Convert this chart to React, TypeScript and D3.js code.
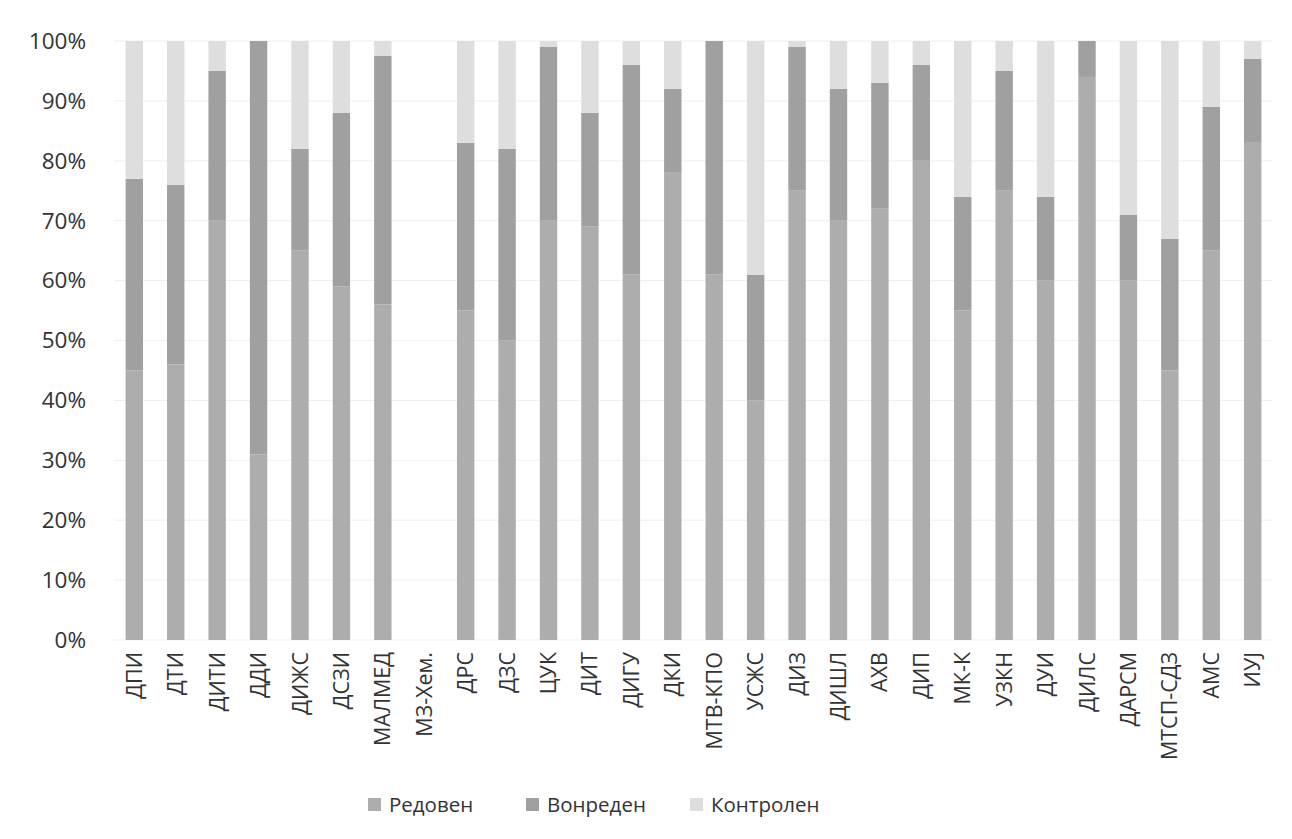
import React, { useEffect, useRef } from 'react';
import * as d3 from 'd3';

const categories = [
  'ДПИ', 'ДТИ', 'ДИТИ', 'ДДИ', 'ДИЖС', 'ДСЗИ', 'МАЛМЕД', 'МЗ-Хем.', 'ДРС', 'ДЗС',
  'ЦУК', 'ДИТ', 'ДИГУ', 'ДКИ', 'МТВ-КПО', 'УСЖС', 'ДИЗ', 'ДИШЛ', 'АХВ', 'ДИП',
  'МК-К', 'УЗКН', 'ДУИ', 'ДИЛС', 'ДАРСМ', 'МТСП-СДЗ', 'АМС', 'ИУЈ',
];

// shares in percent
const redoven = [45, 46, 70, 31, 65, 59, 56, 0, 55, 50, 70, 69, 61, 78, 61, 40, 75, 70, 72, 80, 55, 75, 60, 94, 60, 45, 65, 83];
const vonreden = [32, 30, 25, 69, 17, 29, 41.5, 0, 28, 32, 29, 19, 35, 14, 39, 21, 24, 22, 21, 16, 19, 20, 14, 6, 11, 22, 24, 14];
const kontrolen = [23, 24, 5, 0, 18, 12, 2.5, 0, 17, 18, 1, 12, 4, 8, 0, 39, 1, 8, 7, 4, 26, 5, 26, 0, 29, 33, 11, 3];

const seriesNames = ['Редовен', 'Вонреден', 'Контролен'];
const seriesColors = ['#adadad', '#a0a0a0', '#dedede'];
const yTicks = [0, 0.1, 0.2, 0.3, 0.4, 0.5, 0.6, 0.7, 0.8, 0.9, 1];

export default function App() {
  const svgRef = useRef<SVGSVGElement>(null);

  useEffect(() => {
    if (!svgRef.current) return;
    const width = 1292;
    const height = 839;
    const margin = { top: 41, right: 19, bottom: 199, left: 114 };
    const font = '"Open Sans", "Noto Sans", sans-serif';

    const svg = d3.select(svgRef.current);
    svg.selectAll('*').remove();
    svg.attr('width', width).attr('height', height);

    const rows = categories.map((c, i) => {
      const total = redoven[i] + vonreden[i] + kontrolen[i];
      return {
        category: c,
        r: total ? redoven[i] / total : 0,
        v: total ? vonreden[i] / total : 0,
        k: total ? kontrolen[i] / total : 0,
      };
    });

    const x = d3.scaleBand<string>()
      .domain(categories)
      .range([margin.left, width - margin.right])
      .paddingInner(0.58)
      .paddingOuter(0.28);

    const y = d3.scaleLinear()
      .domain([0, 1])
      .range([height - margin.bottom, margin.top]);

    // gridlines
    svg.append('g')
      .selectAll('line')
      .data(yTicks)
      .enter()
      .append('line')
      .attr('x1', margin.left)
      .attr('x2', width - margin.right)
      .attr('y1', d => y(d))
      .attr('y2', d => y(d))
      .attr('stroke', '#efefef')
      .attr('stroke-width', 1);

    const stack = d3.stack<any>().keys(['r', 'v', 'k']);
    const layers = stack(rows);

    svg.append('g')
      .selectAll('g')
      .data(layers)
      .enter()
      .append('g')
      .attr('fill', (_, i) => seriesColors[i])
      .selectAll('rect')
      .data(d => d)
      .enter()
      .append('rect')
      .attr('x', d => x(d.data.category)!)
      .attr('width', x.bandwidth())
      .attr('y', d => y(d[1]))
      .attr('height', d => Math.max(0, y(d[0]) - y(d[1])));

    // y axis labels
    svg.append('g')
      .selectAll('text')
      .data(yTicks)
      .enter()
      .append('text')
      .attr('x', 86)
      .attr('y', d => y(d))
      .attr('dy', '0.35em')
      .attr('text-anchor', 'end')
      .style('font-family', font)
      .style('font-size', '22.5px')
      .style('fill', '#333')
      .text(d => d3.format('.0%')(d));

    // x axis labels
    svg.append('g')
      .selectAll('text')
      .data(categories)
      .enter()
      .append('text')
      .attr('transform', d => `translate(${x(d)! + x.bandwidth() / 2}, ${height - margin.bottom + 12}) rotate(-90)`)
      .attr('dy', '0.35em')
      .attr('text-anchor', 'end')
      .style('font-family', font)
      .style('font-size', '21.5px')
      .style('fill', '#333')
      .text(d => d);

    // legend
    const legendX = [368, 526, 690];
    const legend = svg.append('g');
    seriesNames.forEach((name, i) => {
      legend.append('rect')
        .attr('x', legendX[i])
        .attr('y', 798)
        .attr('width', 13)
        .attr('height', 13)
        .attr('fill', seriesColors[i]);
      legend.append('text')
        .attr('x', legendX[i] + 21)
        .attr('y', 805)
        .attr('dy', '0.35em')
        .style('font-family', font)
        .style('font-size', '20.5px')
        .style('fill', '#333')
        .text(name);
    });
  }, []);

  return (
    <div style={{ position: 'absolute', left: 0, top: 0, background: '#fff' }}>
      <svg ref={svgRef} style={{ display: 'block' }}></svg>
    </div>
  );
}
